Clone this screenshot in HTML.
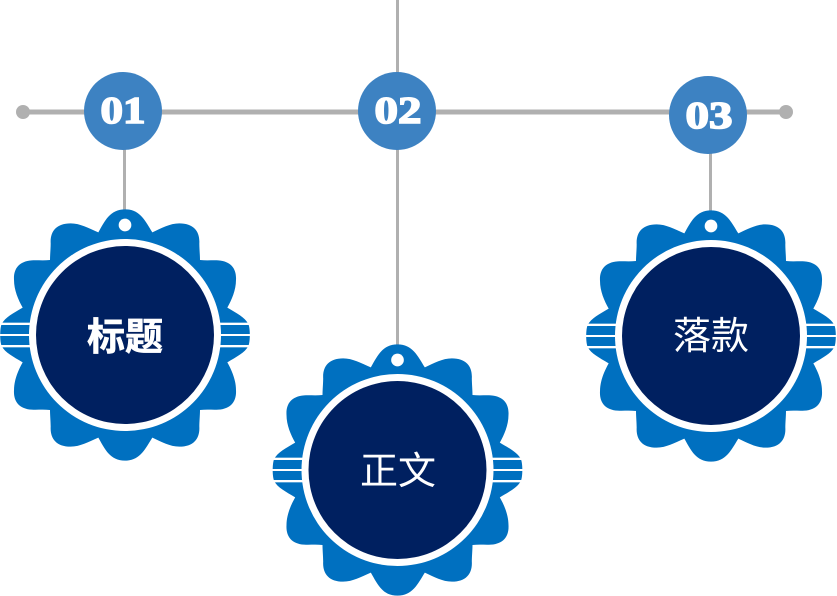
<!DOCTYPE html>
<html><head><meta charset="utf-8"><style>html,body{margin:0;padding:0;background:#fff}svg{display:block}</style></head><body>
<svg width="837" height="596" viewBox="0 0 837 596" xmlns="http://www.w3.org/2000/svg">
<defs>
<g id="b">
<g transform="scale(0.3333) translate(-375,-405)">
<path fill="#0070c0" d="M375,28 C330,28 315,62 295,97 C265,84 240,70 212,70 C168,70 150,95 152,130 C152,145 150,165 150,180 C130,182 110,180 95,181 C55,184 40,208 42,240 C42,270 55,300 68,323 C40,340 15,352 5,372 C-1,385 -1,425 5,438 C15,458 40,470 68,487 C55,510 42,540 42,570 C40,602 55,626 95,629 C110,630 130,628 150,630 C150,645 152,665 152,680 C150,715 168,740 212,740 C240,740 265,726 295,713 C315,748 330,782 375,782 C420,782 435,748 457,713 C485,726 510,740 538,740 C582,740 600,715 598,680 C598,665 600,645 600,630 C620,628 640,630 655,629 C695,626 710,602 708,570 C708,540 695,510 682,487 C710,470 735,458 745,438 C751,425 751,385 745,372 C735,352 710,340 682,323 C695,300 708,270 708,240 C710,208 695,184 655,181 C640,180 620,182 600,180 C600,165 598,145 598,130 C600,95 582,70 538,70 C510,70 485,84 457,97 C435,62 420,28 375,28 Z"/>
<g fill="#fff">
<rect x="-5" y="368" width="760" height="7"/>
<rect x="-5" y="402" width="760" height="6"/>
<rect x="-5" y="435" width="760" height="7"/>
</g>
<circle cx="375" cy="75" r="19" fill="#fff"/>
</g>
<circle r="96" fill="#fff"/>
<circle r="89" fill="#002060"/>
</g>
</defs>
<g stroke="#b0b0b0" fill="none">
<line x1="23" y1="112" x2="786" y2="112" stroke-width="5"/>
<line x1="397.500" y1="0" x2="397.500" y2="80" stroke-width="3"/>
<line x1="124.500" y1="140" x2="124.500" y2="215" stroke-width="3"/>
<line x1="397.500" y1="140" x2="397.500" y2="350" stroke-width="3"/>
<line x1="710.500" y1="140" x2="710.500" y2="215" stroke-width="3"/>
</g>
<circle cx="23" cy="112" r="7" fill="#b0b0b0"/>
<circle cx="786" cy="112" r="7" fill="#b0b0b0"/>
<circle cx="123" cy="111" r="39" fill="#3d82c2"/>
<circle cx="397" cy="111" r="39" fill="#3d82c2"/>
<circle cx="708" cy="115" r="39" fill="#3d82c2"/>
<g font-family="'Liberation Serif',serif" font-weight="700" font-size="38" fill="#fff" stroke="#fff" stroke-width="1.6" text-anchor="middle">
<text x="123" y="123" textLength="45" lengthAdjust="spacingAndGlyphs">01</text>
<text x="398" y="123" textLength="47" lengthAdjust="spacingAndGlyphs">02</text>
<text x="709" y="128" textLength="47" lengthAdjust="spacingAndGlyphs">03</text>
</g>
<use href="#b" x="125" y="335"/>
<use href="#b" x="397.500" y="470"/>
<use href="#b" x="711" y="336"/>
<g font-family="'Liberation Sans','Noto Sans CJK SC',sans-serif" font-size="38" fill="#fff" text-anchor="middle">
<text x="125" y="350" font-weight="700" stroke="#fff" stroke-width="0.6">标题</text>
<text x="398" y="484">正文</text>
<text x="711" y="349">落款</text>
</g>
</svg>
</body></html>
